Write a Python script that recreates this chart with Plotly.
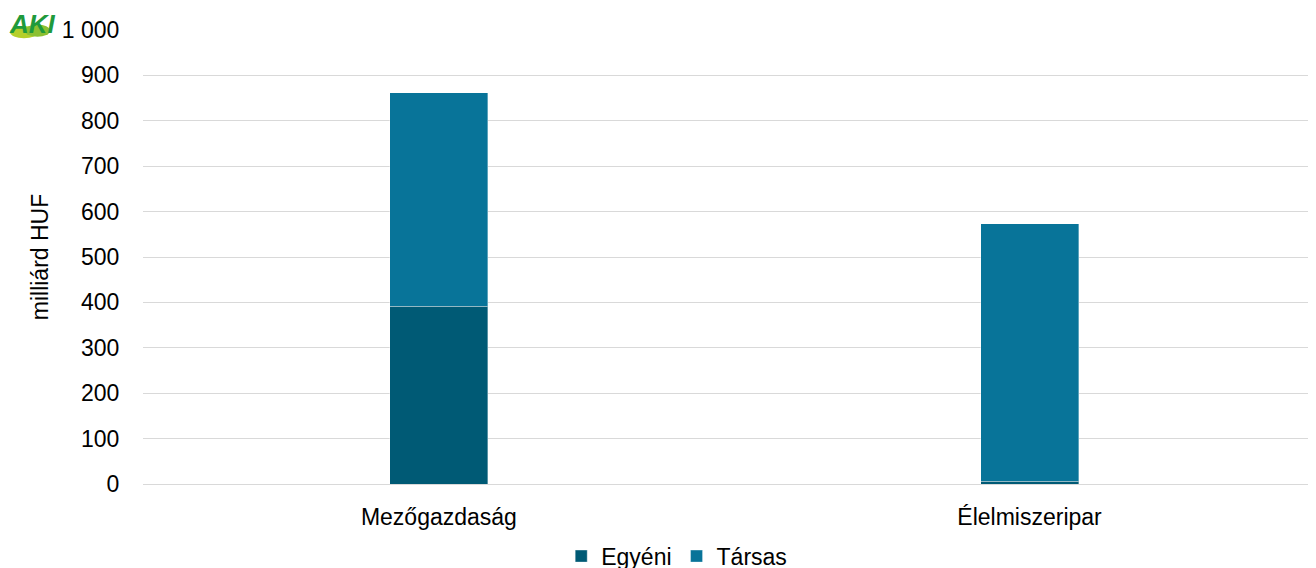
import plotly.graph_objects as go

categories = ["Mezőgazdaság", "Élelmiszeripar"]
egyeni = [392, 6]
tarsas = [470, 567]
y_ticks = [0, 100, 200, 300, 400, 500, 600, 700, 800, 900, 1000]
y_ticklabels = ["0", "100", "200", "300", "400", "500", "600", "700", "800", "900", "1 000"]

font_family = "Liberation Sans, Arial, sans-serif"

fig = go.Figure()
fig.add_trace(go.Bar(name="Egyéni", x=categories, y=egyeni,
                     marker=dict(color="#005a75", line=dict(color="rgba(255,255,255,0.35)", width=1))))
fig.add_trace(go.Bar(name="Társas", x=categories, y=tarsas,
                     marker=dict(color="#087499", line=dict(color="rgba(255,255,255,0.35)", width=1))))

# body has an 8px margin: compensate so the plot area lands at the reference pixels
fig.update_layout(
    barmode="stack",
    bargap=0.834,
    width=1316, height=568,
    margin=dict(l=135, r=8, t=22, b=92, autoexpand=False),
    paper_bgcolor="white", plot_bgcolor="white",
    font=dict(family=font_family, size=23, color="#000000"),
    legend=dict(orientation="h", x=0.455, xanchor="center", yref="container", y=0.035,
                yanchor="middle", font=dict(size=23), traceorder="normal"),
    yaxis=dict(range=[0, 1000], tickvals=y_ticks, ticktext=y_ticklabels,
               showgrid=True, gridcolor="#d9d9d9", gridwidth=1, zeroline=False,
               ticks="outside", ticklen=18, tickcolor="white", showline=False,
               title=dict(text="milliárd HUF", font=dict(size=23), standoff=6)),
    xaxis=dict(range=[-0.501, 1.485], showline=True, linecolor="#d9d9d9", linewidth=1,
               ticks="outside", ticklen=12, tickcolor="white", tickfont=dict(size=23)),
)

# Logo approximation
fig.add_shape(type="circle", xref="paper", yref="paper",
              x0=-0.1134, x1=-0.0895, y0=0.982, y1=1.009, fillcolor="#b5cf2a", line=dict(width=0), layer="above")
fig.add_shape(type="circle", xref="paper", yref="paper",
              x0=-0.1006, x1=-0.0793, y0=0.985, y1=1.012, fillcolor="#8cc031", line=dict(width=0), layer="above")
fig.add_annotation(text="<b><i>AKI</i></b>", xref="paper", yref="paper", x=-0.0725, y=1.05,
                   xanchor="right", yanchor="top", showarrow=False,
                   font=dict(family=font_family, size=26, color="#1f9a3c"))

fig.write_html("out.html")
